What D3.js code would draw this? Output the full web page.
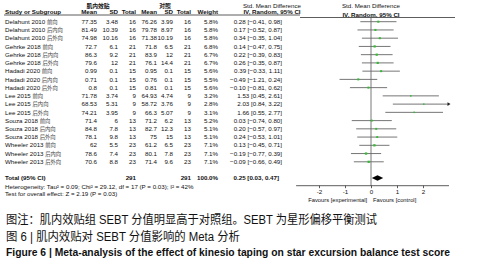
<!DOCTYPE html>
<html><head><meta charset="utf-8">
<script src="https://cdn.jsdelivr.net/npm/d3@7"></script>
<style>
html,body{margin:0;padding:0;background:#fff;}
svg{display:block;}
text{font-family:"Liberation Sans",Arial,"Noto Sans CJK SC",sans-serif;fill:#111;}
</style></head>
<body>
<script>
// ---------- data ----------
const studyNames = ["Delahunt 2010","Delahunt 2010","Delahunt 2010",
  "Gehrke 2018","Gehrke 2018","Gehrke 2018",
  "Hadadi 2020","Hadadi 2020","Hadadi 2020",
  "Lee 2015","Lee 2015","Lee 2015",
  "Souza 2018","Souza 2018","Souza 2018",
  "Wheeler 2013","Wheeler 2013","Wheeler 2013"];
const directions = ["前向","后内向","后外向","前向","后内向","后外向","前向","后内向","后外向",
  "前向","后内向","后外向","前向","后内向","后外向","前向","后内向","后外向"];
const expMean = ["77.35","81.49","74.98","72.7","86.3","79.6","0.99","0.71","0.8","71.78","68.53","74.21","71.4","84.8","78.1","62","78.6","70.6"];
const expSD   = ["3.48","10.39","10.16","6.1","9.2","12","0.1","0.1","0.1","3.74","5.31","3.95","6","7.8","9.8","5.5","7.4","8.8"];
const expN    = [16,16,16,21,21,21,15,15,15,9,9,9,13,13,13,23,23,23];
const ctlMean = ["76.26","79.78","71.38","71.8","83.9","76.1","0.95","0.76","0.81","64.93","58.72","66.3","71.2","82.7","75","61.2","80.1","71.4"];
const ctlSD   = ["3.99","8.97","10.19","6.5","12","14.4","0.1","0.1","0.1","4.74","3.76","5.07","6.2","12.3","15","6.5","7.8","9.6"];
const ctlN    = [16,16,16,21,21,21,15,15,15,9,9,9,13,13,13,23,23,23];
const weight  = [5.8,5.8,5.8,6.8,6.7,6.7,5.6,5.5,5.6,3.2,2.8,3.1,5.2,5.1,5.1,7.1,7.1,7.1];
const smd     = [0.28,0.17,0.34,0.14,0.22,0.26,0.39,-0.49,-0.10,1.53,2.03,1.66,0.03,0.20,0.24,0.13,-0.19,-0.09];
const ciLo    = [-0.41,-0.52,-0.35,-0.47,-0.39,-0.35,-0.33,-1.21,-0.81,0.45,0.84,0.55,-0.74,-0.57,-0.53,-0.45,-0.77,-0.66];
const ciHi    = [0.98,0.87,1.04,0.75,0.83,0.87,1.11,0.24,0.62,2.61,3.22,2.77,0.80,0.97,1.01,0.71,0.39,0.49];
const total   = {expN:291, ctlN:291, weight:"100.0%", smd:0.25, lo:0.03, hi:0.47};
const axisTicks = [-2,-1,0,1,2];
const heterogeneity = "Heterogeneity: Tau² = 0.09; Chi² = 29.12, df = 17 (P = 0.03); I² = 42%";
const overall = "Test for overall effect: Z = 2.19 (P = 0.03)";
const favours = ["Favours [experimental]","Favours [control]"];
const captions = ["图注：肌内效贴组 SEBT 分值明显高于对照组。SEBT 为星形偏移平衡测试",
  "图 6 | 肌内效贴对 SEBT 分值影响的 Meta 分析",
  "Figure 6  |  Meta-analysis of the effect of kinesio taping on star excursion balance test score"];

// ---------- layout ----------
const W = 496, H = 263, FS = 6.2;
const svg = d3.select("body").append("svg").attr("width", W).attr("height", H);
svg.append("rect").attr("width", W).attr("height", H).attr("fill", "#fff");

const y = d3.scaleLinear().domain([0, 17]).range([21.7, 161.8]);
const x = d3.scaleLinear().domain([-3, 3]).range([293, 449]);
const fmt = d3.format(".2f");

const cols = [
  {xr:97,  head:"Mean"},
  {xr:118, head:"SD"},
  {xr:136, head:"Total"},
  {xr:157, head:"Mean"},
  {xr:173, head:"SD"},
  {xr:191, head:"Total"},
  {xr:218, head:"Weight"},
];
const ciRight = 282;
const ciHead = 272;

function txt(g, xx, yy, s, anchor, bold, size) {
  return g.append("text").attr("x", xx).attr("y", yy).attr("dy", "0.35em")
    .attr("text-anchor", anchor || "start")
    .attr("font-size", size || FS)
    .attr("font-weight", bold ? "bold" : "normal").text(s);
}

const g = svg.append("g");
// group headers
txt(g, 98, 5.5, "肌内效贴", "middle", true, 5.8);
txt(g, 165, 5.5, "对照", "middle", true, 5.8);
txt(g, ciHead, 5.5, "Std. Mean Difference", "middle", false);
txt(g, 371, 5.5, "Std. Mean Difference", "middle", false);
// column headers
txt(g, 5, 12, "Study or Subgroup", "start", true);
cols.forEach(c => txt(g, c.xr, 12, c.head, "end", true));
txt(g, ciHead, 12, "IV, Random, 95% CI", "middle", true);
txt(g, 371, 14.5, "IV, Random, 95% CI", "middle", true);
g.append("line").attr("x1", 4).attr("x2", 300).attr("y1", 15).attr("y2", 15).attr("stroke", "#333").attr("stroke-width", 0.8);
g.append("line").attr("x1", 300).attr("x2", 455).attr("y1", 17.5).attr("y2", 17.5).attr("stroke", "#333").attr("stroke-width", 0.8);

// rows
studyNames.forEach((s, i) => {
  const yy = y(i);
  const t = txt(g, 5, yy, s + " ", "start");
  t.append("tspan").attr("font-size", 5.3).attr("fill", "#444").attr("font-family", "Noto Sans CJK SC, sans-serif").text(directions[i]);
  const vals = [expMean[i], expSD[i], expN[i], ctlMean[i], ctlSD[i], ctlN[i], weight[i].toFixed(1) + "%"];
  cols.forEach((c, j) => txt(g, c.xr, yy, vals[j], "end"));
  txt(g, ciRight, yy, `${fmt(smd[i])} [${fmt(ciLo[i])}, ${fmt(ciHi[i])}]`, "end");
});

// total rows
const yT = 178;
txt(g, 5, yT, "Total (95% CI)", "start", true);
txt(g, 136, yT, total.expN, "end", true);
txt(g, 191, yT, total.ctlN, "end", true);
txt(g, 218, yT, total.weight, "end", true);
txt(g, ciRight - 3, yT, `${fmt(total.smd)} [${fmt(total.lo)}, ${fmt(total.hi)}]`, "end", true);
txt(g, 5, 186.5, heterogeneity, "start");
txt(g, 5, 194, overall, "start");

// plot
const axY = 185.7;
const xMax = 3.0, xMin = -2.88;
g.append("line").attr("x1", x(0)).attr("x2", x(0)).attr("y1", 17.5).attr("y2", axY).attr("stroke", "#555").attr("stroke-width", 0.8);
studyNames.forEach((s, i) => {
  const yy = y(i);
  const hi = Math.min(ciHi[i], xMax);
  g.append("line").attr("x1", x(ciLo[i])).attr("x2", x(hi)).attr("y1", yy).attr("y2", yy)
    .attr("stroke", "#666").attr("stroke-width", 0.9);
  if (ciHi[i] > xMax) {
    g.append("path").attr("d", `M${x(xMax)+1.5},${yy} L${x(xMax)-1.5},${yy-1.8} L${x(xMax)-1.5},${yy+1.8}Z`).attr("fill", "#222");
  }
  const sz = 0.85 * Math.sqrt(weight[i]);
  g.append("rect").attr("x", x(smd[i]) - sz/2).attr("y", yy - sz/2).attr("width", sz).attr("height", sz).attr("fill", "#33bb33");
});
// diamond
g.append("path").attr("d", `M${x(total.lo)},${yT} L${x(total.smd)},${yT-2.8} L${x(total.hi)},${yT} L${x(total.smd)},${yT+2.8}Z`).attr("fill", "#000");

// axis
const axis = d3.axisBottom(x).tickValues(axisTicks).tickSize(2.5).tickFormat(d3.format("d"));
const ag = g.append("g").attr("transform", `translate(0,${axY})`).call(axis);
ag.select(".domain").remove();
ag.append("line").attr("x1", x(xMin)).attr("x2", x(xMax)).attr("stroke", "#333").attr("stroke-width", 0.8);
ag.selectAll(".tick line").attr("stroke", "#333").attr("stroke-width", 0.8);
ag.selectAll(".tick text").attr("font-size", FS).attr("y", 3.5).attr("fill", "#111")
  .attr("font-family", "Liberation Sans, Arial, sans-serif").text(d => d < 0 ? "-" + Math.abs(d) : d);
txt(g, x(-0.15), 200, favours[0], "end", false, 5.8);
txt(g, x(0.08), 200, favours[1], "start", false, 5.8);

// captions
svg.append("text").attr("x", 6).attr("y", 224).attr("font-size", 12)
  .attr("font-family", "Noto Sans CJK SC, sans-serif").attr("textLength", 371).attr("lengthAdjust", "spacingAndGlyphs").text(captions[0]);
svg.append("text").attr("x", 6).attr("y", 241).attr("font-size", 12)
  .attr("font-family", "Noto Sans CJK SC, sans-serif").attr("textLength", 234).attr("lengthAdjust", "spacingAndGlyphs").text(captions[1]);
svg.append("text").attr("x", 6).attr("y", 256).attr("font-size", 11).attr("font-weight", "bold")
  .attr("font-family", "Liberation Sans, Arial, sans-serif").attr("textLength", 444).attr("lengthAdjust", "spacingAndGlyphs").text(captions[2]);
</script>
</body></html>
